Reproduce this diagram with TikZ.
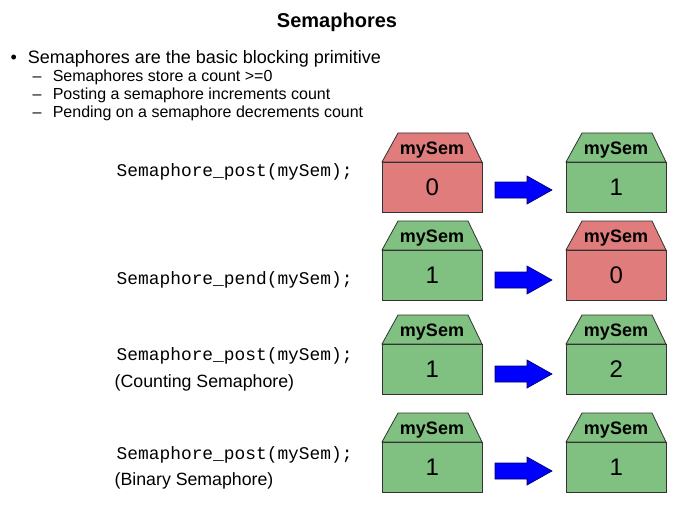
\documentclass[tikz,border=0pt]{standalone}
\usepackage{fontspec}
\setmainfont{Liberation Sans}
\setmonofont{Liberation Mono}
\definecolor{semred}{HTML}{E07C7C}
\definecolor{semgreen}{HTML}{80C080}
\begin{document}
\begin{tikzpicture}[x=0.75pt,y=-0.75pt,
  hs/.style={draw=black!80,line width=0.6pt},
  lbl/.style={font=\bfseries\fontsize{13.5}{15}\selectfont},
  num/.style={font=\fontsize{18}{20}\selectfont},
  code/.style={font=\ttfamily\fontsize{13.4}{15}\selectfont,anchor=west},
  txt/.style={font=\fontsize{13.3}{15}\selectfont,anchor=west},
  sub/.style={anchor=west,font=\fontsize{12}{14}\selectfont},
  arr/.style={draw=blue!40!black,fill=blue,line width=0.5pt}]
\useasboundingbox (0,0) rectangle (674,506);
\fill[white] (0,0) rectangle (674,506);
\node[font=\bfseries\fontsize{15}{17}\selectfont] (title) at (337,22) {Semaphores};
\node[anchor=west,font=\fontsize{13.5}{15}\selectfont] (b1) at (6,59) {\textbullet\hspace{0.6em}Semaphores are the basic blocking primitive};
\node[sub] (b2) at (28,77) {–\hspace{0.7em}Semaphores store a count >=0};
\node[sub] (b3) at (28,95) {–\hspace{0.7em}Posting a semaphore increments count};
\node[sub] (b4) at (28,113) {–\hspace{0.7em}Pending on a semaphore decrements count};
\newcommand{\semhouse}[5]{% name, x, ytop, color, value
  \fill[#4] (#2+16,#3) -- (#2+86,#3) -- (#2+100,#3+29) -- (#2,#3+29) -- cycle;
  \draw[hs] (#2+16,#3) -- (#2+86,#3) -- (#2+100,#3+29) -- (#2,#3+29) -- cycle;
  \node[hs,fill=#4,minimum width=75pt,minimum height=37.5pt,anchor=north west,inner sep=0] (#1) at (#2,#3+29) {};
  \node[lbl] (#1l) at (#2+50,#3+17) {mySem};
  \node[num] (#1n) at (#1) {#5};
}
\newcommand{\semarrow}[2]{% x, ycenter
  \draw[arr] (#1,#2-8) -- (#1+32,#2-8) -- (#1+32,#2-14) -- (#1+57,#2) -- (#1+32,#2+14) -- (#1+32,#2+8) -- (#1,#2+8) -- cycle;}
\semhouse{a1}{382}{133}{semred}{0}
\semhouse{a2}{566}{133}{semgreen}{1}
\semarrow{495}{190}
\node[code] (c1) at (112,172) {Semaphore\_post(mySem);};
\semhouse{b1h}{382}{221}{semgreen}{1}
\semhouse{b2h}{566}{221}{semred}{0}
\semarrow{495}{280}
\node[code] (c2) at (112,280) {Semaphore\_pend(mySem);};
\semhouse{c1h}{382}{315}{semgreen}{1}
\semhouse{c2h}{566}{315}{semgreen}{2}
\semarrow{495}{374}
\node[code] (c3) at (112,356) {Semaphore\_post(mySem);};
\node[txt] (t3) at (110,383) {(Counting Semaphore)};
\semhouse{d1h}{382}{413}{semgreen}{1}
\semhouse{d2h}{566}{413}{semgreen}{1}
\semarrow{495}{471}
\node[code] (c4) at (112,455) {Semaphore\_post(mySem);};
\node[txt] (t4) at (110,481) {(Binary Semaphore)};
\end{tikzpicture}
\end{document}
